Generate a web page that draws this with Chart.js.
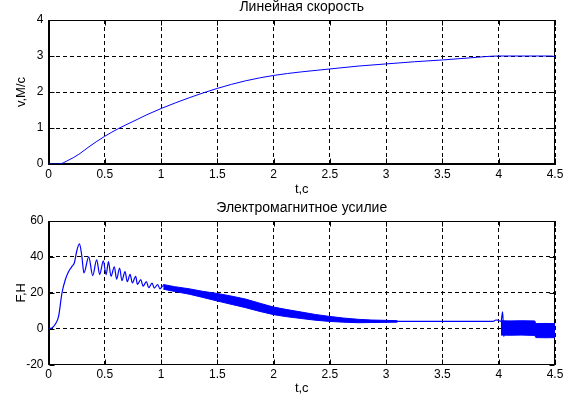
<!DOCTYPE html>
<html><head><meta charset="utf-8">
<script src="https://cdn.jsdelivr.net/npm/chart.js@4/dist/chart.umd.min.js"></script>
<style>
html,body{margin:0;padding:0;background:#fff;}
#wrap{position:relative;width:572px;height:398px;background:#fff;}
canvas{position:absolute;left:0;}
</style></head><body>
<div id="wrap">
<canvas id="c1" width="572" height="198" style="top:0"></canvas>
<canvas id="c2" width="572" height="200" style="top:198px"></canvas>
</div>
<script>
// ---- tick labels ----
const xTickVals = [0, 0.5, 1, 1.5, 2, 2.5, 3, 3.5, 4, 4.5];
const xTickLabels = ['0', '0.5', '1', '1.5', '2', '2.5', '3', '3.5', '4', '4.5'];
const vTickVals = [0, 1, 2, 3, 4];
const fTickVals = [-20, 0, 20, 40, 60];

// ---- texts ----
const titleV = 'Линейная скорость';
const titleF = 'Электромагнитное усилие';
const xLabel = 't,с';
const vLabel = 'v,М/с';
const fLabel = 'F,Н';

// ---- velocity series ----
const tV = [0, 0.09, 0.18, 0.27, 0.36, 0.5, 0.625, 0.75, 0.875, 1.0, 1.25, 1.5, 1.75, 2.0, 2.25, 2.5, 2.75, 3.0, 3.25, 3.5, 3.75, 4.0, 4.25, 4.47, 4.5];
const vVals = [0, 0, 0.11, 0.27, 0.48, 0.77, 0.99, 1.18, 1.37, 1.54, 1.84, 2.10, 2.31, 2.46, 2.56, 2.64, 2.72, 2.78, 2.84, 2.89, 2.95, 3.00, 3.00, 3.00, 2.98];

// ---- force series (main trace) ----
const tF = [0, 0.03, 0.06, 0.09, 0.12, 0.15, 0.18, 0.21, 0.23, 0.25, 0.275, 0.295, 0.315, 0.357, 0.393, 0.428, 0.455, 0.487, 0.512, 0.533, 0.555, 0.585, 0.605, 0.632, 0.652, 0.68, 0.7, 0.725, 0.745, 0.775, 0.79, 0.82, 0.84, 0.87, 0.89, 0.92, 0.94, 0.97, 0.99, 1.02, 1.04, 1.25, 1.5, 1.75, 2.0, 2.25, 2.5, 2.75, 3.0, 3.25, 3.5, 3.75, 3.95, 3.975, 3.99, 4.02, 4.035, 4.045, 4.06, 4.2, 4.35, 4.5];
const fVals = [0, 0.4, 2.4, 7, 20, 27.4, 32, 34.8, 36.7, 43, 47.2, 41, 31, 40, 29.6, 38.4, 30.2, 37.8, 30.1, 37.3, 29.2, 34.5, 27.6, 33.8, 26.8, 31.8, 26.2, 30.2, 25.5, 29.2, 24.6, 27.3, 23.7, 26.2, 22.8, 25.4, 22.6, 24.6, 22.2, 24, 22.5, 20.8, 17.4, 14, 9.9, 7.3, 5.3, 4.3, 4.0, 4.0, 4.0, 4.0, 4.05, 4.8, 4.7, 4.0, 9.4, -4.5, 1, 0.5, -1, -1];

// ---- force: envelope of the dense ripple (upper / lower) ----
const tB1 = [1.02, 1.12, 1.25, 1.37, 1.5, 1.62, 1.75, 1.87, 2.0, 2.12, 2.25, 2.37, 2.5, 2.62, 2.75, 2.87, 3.0, 3.1];
const fUp1 = [24.6, 23.4, 22.2, 20.8, 19.6, 18.2, 16.5, 14.3, 12.0, 10.6, 9.2, 7.9, 6.8, 5.9, 5.2, 4.8, 4.6, 4.4];
const fLo1 = [22.0, 20.7, 19.2, 17.4, 15.4, 13.6, 11.7, 9.7, 7.8, 6.6, 5.6, 4.7, 4.0, 3.6, 3.3, 3.4, 3.5, 3.6];
const tB2 = [4.02, 4.1, 4.2, 4.32, 4.33, 4.42, 4.5];
const fUp2 = [4.4, 4.3, 4.4, 4.3, 2.8, 2.9, 2.8];
const fLo2 = [-3.6, -3.7, -3.6, -3.8, -5.0, -5.1, -5.0];

const BLUE = '#0000ff';
const FONT = "'Liberation Sans', Arial, Helvetica, sans-serif";
const pts = (xs, ys) => xs.map((x, i) => ({x: x, y: ys[i]}));

const boxPlugin = {
  id: 'matlabBox',
  beforeDatasetsDraw(chart) {
    const {ctx, chartArea: a, scales} = chart;
    const xs = scales.x, ys = scales.y;
    const L = Math.round(a.left) + 0.5, R = Math.round(a.right) - 0.5;
    const T = Math.round(a.top) + 0.5, B = Math.round(a.bottom) - 0.5;
    ctx.save();
    ctx.strokeStyle = '#000';
    ctx.lineWidth = 1;
    ctx.setLineDash([]);
    ctx.strokeRect(L, T, R - L, B - T);
    ctx.beginPath();
    xs.ticks.forEach(t => {
      const p = Math.round(xs.getPixelForValue(t.value)) + 0.5;
      ctx.moveTo(p, B); ctx.lineTo(p, B - 5);
      ctx.moveTo(p, T); ctx.lineTo(p, T + 5);
    });
    ys.ticks.forEach(t => {
      const p = Math.round(ys.getPixelForValue(t.value)) + 0.5;
      ctx.moveTo(L, p); ctx.lineTo(L + 5, p);
      ctx.moveTo(R, p); ctx.lineTo(R - 5, p);
    });
    ctx.stroke();
    ctx.restore();
  }
};

function makeOptions(cfg) {
  return {
    responsive: false,
    animation: false,
    devicePixelRatio: 1,
    layout: {padding: {left: 0, right: 17, top: 0, bottom: 0}},
    elements: {point: {radius: 0}, line: {tension: 0}},
    plugins: {
      legend: {display: false},
      tooltip: {enabled: false},
      title: {
        display: true, text: cfg.title, fullSize: false, color: '#000',
        font: {family: FONT, size: 14, weight: 'normal'},
        padding: cfg.titlePad
      }
    },
    scales: {
      x: {
        type: 'linear', min: 0, max: 4.5,
        afterBuildTicks: s => { s.ticks = xTickVals.map(v => ({value: v})); },
        afterFit: s => { s.height = cfg.xHeight; },
        ticks: {
          color: '#000', font: {family: FONT, size: 12}, padding: 3, maxRotation: 0, autoSkip: false,
          callback: v => xTickLabels[xTickVals.indexOf(v)]
        },
        grid: {color: '#000', lineWidth: 1, drawTicks: false},
        border: {display: true, color: '#000', width: 1, dash: [4, 3]},
        title: {display: true, text: xLabel, color: '#000', font: {family: FONT, size: 13}, padding: {top: 0, bottom: cfg.xTitlePad}}
      },
      y: {
        type: 'linear', min: cfg.yMin, max: cfg.yMax,
        afterBuildTicks: s => { s.ticks = cfg.yTicks.map(v => ({value: v})); },
        afterFit: s => { s.width = 48.5; },
        ticks: {color: '#000', font: {family: FONT, size: 12}, padding: 5, autoSkip: false,
          callback: v => String(v)},
        grid: {color: '#000', lineWidth: 1, drawTicks: false},
        border: {display: true, color: '#000', width: 1, dash: [4, 3]},
        title: {display: true, text: cfg.yLabel, color: '#000', font: {family: FONT, size: 13}, padding: {top: 14, bottom: 0}}
      }
    }
  };
}

new Chart(document.getElementById('c1'), {
  type: 'line',
  data: {datasets: [{data: pts(tV, vVals), borderColor: BLUE, borderWidth: 1, fill: false, cubicInterpolationMode: 'monotone'}]},
  options: makeOptions({title: titleV, titlePad: {top: -1, bottom: 4.2}, xHeight: 34, xTitlePad: 0.3,
    yMin: 0, yMax: 4, yTicks: vTickVals, yLabel: vLabel}),
  plugins: [boxPlugin]
});

new Chart(document.getElementById('c2'), {
  type: 'line',
  data: {datasets: [
    {data: pts(tB1, fUp1), borderColor: BLUE, borderWidth: 1, fill: false},
    {data: pts(tB1, fLo1), borderColor: BLUE, borderWidth: 1, fill: '-1', backgroundColor: BLUE},
    {data: pts(tB2, fUp2), borderColor: BLUE, borderWidth: 1, fill: false},
    {data: pts(tB2, fLo2), borderColor: BLUE, borderWidth: 1, fill: '-1', backgroundColor: BLUE},
    {data: pts(tF, fVals), borderColor: BLUE, borderWidth: 1.2, fill: false, cubicInterpolationMode: 'monotone'}
  ]},
  options: makeOptions({title: titleF, titlePad: {top: 1.6, bottom: 4.6}, xHeight: 33.5, xTitlePad: 1.3,
    yMin: -20, yMax: 60, yTicks: fTickVals, yLabel: fLabel}),
  plugins: [boxPlugin]
});
</script>
</body></html>
